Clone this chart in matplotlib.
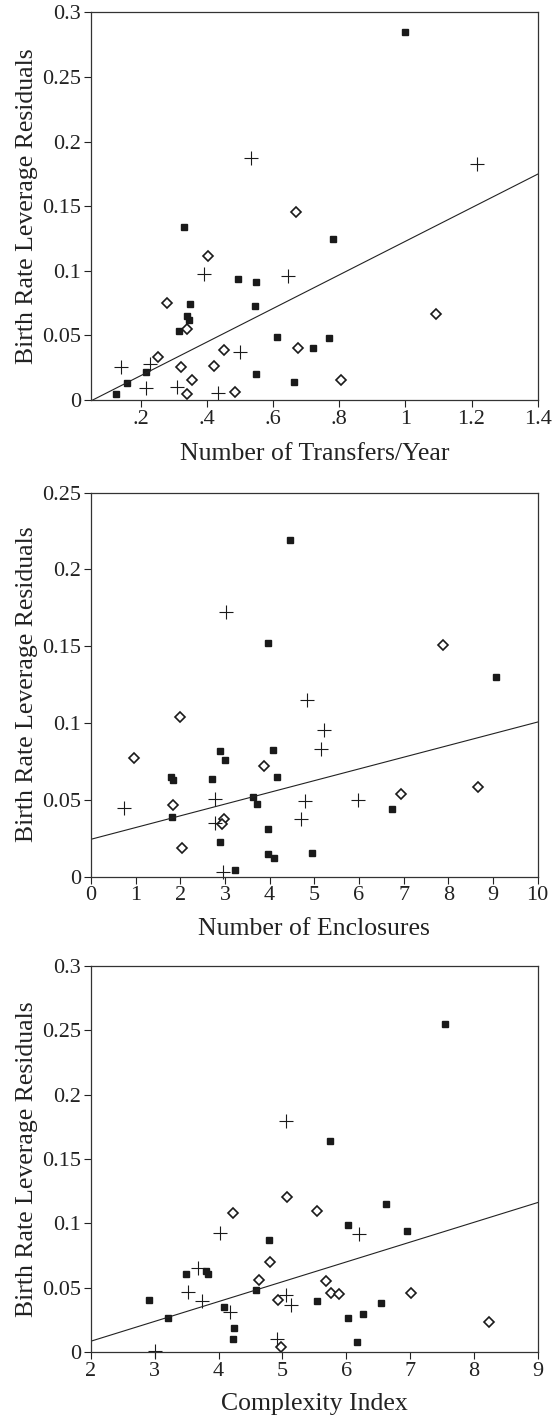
import numpy as np
import matplotlib
matplotlib.use("Agg")
import matplotlib.pyplot as plt

plt.rcParams['font.family'] = ['Liberation Serif', 'DejaVu Serif']

ylabel = 'Birth Rate Leverage Residuals'

# panel 1: transfers per year
t_sq_x = [0.127, 0.159, 0.215, 0.332, 0.317, 0.349, 0.340, 0.346, 0.495, 0.549, 0.545,
          0.612, 0.549, 0.664, 0.721, 0.998, 0.782, 0.768]
t_sq_y = [0.0044, 0.0134, 0.0214, 0.134, 0.0534, 0.0746, 0.065, 0.062, 0.0937, 0.0917, 0.0728,
          0.0488, 0.0199, 0.0142, 0.040, 0.285, 0.1245, 0.0483]
t_di_x = [0.279, 0.405, 0.341, 0.252, 0.323, 0.354, 0.341, 0.421, 0.452, 0.484, 0.671, 0.676,
          1.092, 0.806]
t_di_y = [0.0754, 0.1115, 0.0553, 0.0336, 0.0256, 0.0152, 0.0046, 0.0266, 0.0387, 0.006, 0.1454,
          0.040, 0.0666, 0.0155]
t_pl_x = [0.140, 0.227, 0.215, 0.309, 0.391, 0.434, 0.500, 0.533, 0.646, 1.217]
t_pl_y = [0.0258, 0.0276, 0.0095, 0.0103, 0.0973, 0.0052, 0.0374, 0.1877, 0.0961, 0.1826]
t_fit = (0.130, -0.00716)

# panel 2: enclosures
e_sq_x = [4.446, 3.962, 2.879, 2.991, 4.081, 1.80, 1.83, 2.709, 4.171, 3.627, 3.716, 1.813,
          3.969, 2.887, 3.969, 4.088, 3.224, 4.939, 9.067, 6.738]
e_sq_y = [0.2194, 0.1522, 0.0818, 0.0761, 0.0828, 0.065, 0.063, 0.0639, 0.065, 0.0518, 0.0476,
          0.0389, 0.0309, 0.0224, 0.0146, 0.012, 0.0044, 0.0155, 0.1298, 0.044]
e_di_x = [0.954, 1.999, 1.836, 2.037, 3.880, 2.977, 2.94, 7.887, 6.946, 8.67]
e_di_y = [0.0774, 0.1042, 0.0466, 0.0189, 0.0722, 0.0374, 0.0342, 0.1505, 0.0541, 0.0587]
e_pl_x = [0.730, 3.029, 2.767, 2.775, 2.962, 4.842, 4.797, 4.693, 5.208, 5.156, 5.984]
e_pl_y = [0.045, 0.1725, 0.0505, 0.0348, 0.0031, 0.1148, 0.0494, 0.0378, 0.0957, 0.0831, 0.0502]
e_fit = (0.00763, 0.0244)

# panel 3: complexity index
c_sq_x = [2.903, 3.201, 3.494, 3.80, 3.83, 4.079, 4.235, 4.219, 4.58, 4.795, 5.536, 7.553,
          5.74, 6.628, 6.022, 6.953, 6.55, 6.263, 6.028, 6.169]
c_sq_y = [0.0404, 0.0264, 0.0606, 0.063, 0.061, 0.0347, 0.0189, 0.0101, 0.0479, 0.087, 0.0396,
          0.2547, 0.1643, 0.1154, 0.0984, 0.094, 0.038, 0.0297, 0.0266, 0.008]
c_di_x = [4.23, 5.066, 5.542, 4.81, 4.638, 4.936, 4.972, 5.688, 5.766, 5.887, 7.02, 8.243]
c_di_y = [0.1077, 0.1209, 0.1095, 0.0699, 0.0559, 0.0404, 0.0036, 0.0554, 0.0456, 0.045,
          0.0456, 0.023]
c_pl_x = [5.05, 4.022, 3.671, 3.514, 3.734, 4.183, 5.05, 5.135, 4.915, 6.205, 3.0]
c_pl_y = [0.1799, 0.0926, 0.0652, 0.0466, 0.0398, 0.0313, 0.0443, 0.0365, 0.0101, 0.0921, 0.001]
c_fit = (0.01539, -0.0223)

panels = [
    dict(sq=(t_sq_x, t_sq_y), di=(t_di_x, t_di_y), pl=(t_pl_x, t_pl_y), fit=t_fit,
         xlim=(0.05, 1.4), ylim=(0, 0.3), fit_x=(0.055, 1.4),
         xticks=[0.2, 0.4, 0.6, 0.8, 1.0, 1.2, 1.4],
         xlabels=['.2', '.4', '.6', '.8', '1', '1.2', '1.4'],
         yticks=[0, 0.05, 0.1, 0.15, 0.2, 0.25, 0.3],
         ylabels=['0', '0.05', '0.1', '0.15', '0.2', '0.25', '0.3'],
         xlabel='Number of Transfers/Year', pos=[0.1646, 0.7179, 0.8077, 0.2733], xl_y=-0.112),
    dict(sq=(e_sq_x, e_sq_y), di=(e_di_x, e_di_y), pl=(e_pl_x, e_pl_y), fit=e_fit,
         xlim=(0, 10), ylim=(0, 0.25), fit_x=(0, 10),
         xticks=list(range(11)), xlabels=[str(i) for i in range(11)],
         yticks=[0, 0.05, 0.1, 0.15, 0.2, 0.25],
         ylabels=['0', '0.05', '0.1', '0.15', '0.2', '0.25'],
         xlabel='Number of Enclosures', pos=[0.1646, 0.3817, 0.8077, 0.2709], xl_y=-0.107),
    dict(sq=(c_sq_x, c_sq_y), di=(c_di_x, c_di_y), pl=(c_pl_x, c_pl_y), fit=c_fit,
         xlim=(2, 9), ylim=(0, 0.3), fit_x=(2, 9),
         xticks=list(range(2, 10)), xlabels=[str(i) for i in range(2, 10)],
         yticks=[0, 0.05, 0.1, 0.15, 0.2, 0.25, 0.3],
         ylabels=['0', '0.05', '0.1', '0.15', '0.2', '0.25', '0.3'],
         xlabel='Complexity Index', pos=[0.1646, 0.0465, 0.8077, 0.2722], xl_y=-0.106),
]

fig = plt.figure(figsize=(5.53, 14.18), dpi=100)

for p in panels:
    ax = fig.add_axes(p['pos'])
    ax.plot(p['sq'][0], p['sq'][1], 's', ms=4.2, color='#1a1a1a', mec='#1a1a1a', clip_on=False)
    ax.plot(p['di'][0], p['di'][1], 'D', ms=5.6, mfc='white', mec='#1a1a1a', mew=1.2, clip_on=False)
    ax.plot(p['pl'][0], p['pl'][1], '+', ms=10, color='#1a1a1a', mew=0.8, clip_on=False)
    m, b = p['fit']
    fx = np.array(p['fit_x'])
    ax.plot(fx, m * fx + b, '-', color='#222222', lw=0.8)
    ax.set_xlim(p['xlim'])
    ax.set_ylim(p['ylim'])
    ax.set_xticks(p['xticks'])
    ax.set_xticklabels(p['xlabels'])
    ax.set_yticks(p['yticks'])
    ax.set_yticklabels(p['ylabels'])
    ax.tick_params(direction='out', length=5, width=0.8, labelsize=16, pad=2, colors='#222222')
    for s in ax.spines.values():
        s.set_linewidth(0.9)
        s.set_color('#333333')
    ax.set_xlabel(p['xlabel'], fontsize=18.5, color='#222222')
    ax.set_ylabel(ylabel, fontsize=18.5, color='#222222')
    ax.xaxis.set_label_coords(0.5, p['xl_y'])
    ax.yaxis.set_label_coords(-0.119, 0.5)

fig.savefig('out.png', dpi=100, facecolor='white')
